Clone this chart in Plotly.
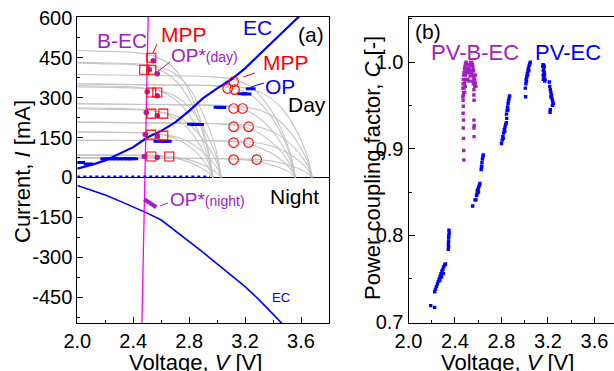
import plotly.graph_objects as go

W, H = 614, 371
FONT = "Liberation Sans, Arial, sans-serif"
PURPLE = "#a020c0"
MAGENTA = "#ff00ff"
BLUE = "#0000ff"
RED = "#ff0000"
GRAY = "#c4c4c4"

# ---------------- Panel (a): I-V data ----------------
# PV I-V curves (gray), family with lower Voc (PV-B-EC side)
VA1 = [2.0, 2.2, 2.4, 2.55, 2.65, 2.75, 2.85, 2.93, 2.97]
IA1 = [
    [477, 474, 470, 456, 429, 372, 262, 119, 0],
    [430, 427, 424, 411, 387, 335, 237, 108, 0],
    [345, 343, 340, 329, 311, 269, 190, 86, 0],
    [262, 260, 258, 250, 236, 204, 144, 66, 0],
    [172, 171, 169, 164, 155, 134, 95, 43, 0],
    [84, 83, 83, 80, 76, 66, 46, 21, 0],
]
VA2 = [2.0, 2.25, 2.45, 2.6, 2.7, 2.8, 2.9, 2.99, 3.03]
IA2 = [
    [433, 430, 426, 413, 389, 337, 238, 108, 0],
    [340, 338, 335, 325, 306, 265, 187, 85, 0],
    [258, 256, 254, 246, 232, 201, 142, 65, 0],
    [170, 169, 167, 162, 153, 133, 94, 43, 0],
    [85, 84, 84, 81, 77, 66, 47, 21, 0],
]
# family with higher Voc (PV-EC side)
VB1 = [2.0, 2.5, 2.95, 3.12, 3.22, 3.32, 3.43, 3.52, 3.56]
IB1 = [
    [387, 383, 379, 368, 347, 300, 212, 96, 0],
    [352, 348, 345, 334, 315, 273, 193, 88, 0],
    [277, 274, 271, 263, 248, 215, 151, 69, 0],
    [208, 205, 202, 196, 185, 160, 113, 51, 0],
    [140, 139, 138, 134, 126, 109, 77, 35, 0],
    [75, 73, 71, 69, 65, 56, 40, 18, 0],
]
VB2 = [2.0, 2.55, 3.05, 3.22, 3.33, 3.44, 3.55, 3.64, 3.68]
IB2 = [
    [352, 348, 345, 334, 315, 273, 193, 88, 0],
    [277, 274, 271, 263, 248, 215, 151, 69, 0],
    [208, 205, 202, 196, 185, 160, 113, 51, 0],
    [140, 139, 138, 134, 126, 109, 77, 35, 0],
    [72, 72, 71, 69, 65, 56, 40, 18, 0],
]

# EC load curve (day, charging) and (night, discharging)
EC_DAY_V = [2.0, 2.1, 2.2, 2.3, 2.4, 2.5, 2.6, 2.7, 2.8, 2.9, 3.0, 3.1, 3.2, 3.3, 3.4, 3.5, 3.6]
EC_DAY_I = [33, 47, 64, 88, 114, 150, 175, 207, 250, 298, 335, 368, 410, 461, 510, 560, 612]
EC_NIGHT_V = [2.0, 2.1, 2.2, 2.3, 2.4, 2.5, 2.6, 2.7, 2.8, 2.9, 3.0, 3.1, 3.2, 3.3, 3.4, 3.5]
EC_NIGHT_I = [-30, -47, -66, -88, -110, -134, -160, -200, -240, -282, -325, -366, -410, -460, -513, -568]

# B-EC line
BEC_V = [2.507, 2.462]
BEC_I = [603, -547]

# operating points (blue) of PV-EC
OP_V = [2.02, 2.08, 2.20, 2.23, 2.26, 2.29, 2.32, 2.35, 2.38, 2.40, 2.58, 2.61, 2.64,
        2.82, 2.85, 2.87, 3.01, 3.03, 3.18, 3.21, 3.24]
OP_I = [56, 51, 70, 70, 70, 70, 70, 70, 70, 70, 136, 136, 136,
        200, 199, 199, 264, 263, 315, 314, 333]
# night-time near-zero operating points
OPZ_V = [2.0, 2.95]
OPZ_I = [4, 4]

# OP* (day) of PV-B-EC
OPS_V = [2.543, 2.515, 2.572, 2.500, 2.572, 2.493, 2.572, 2.486, 2.572, 2.479, 2.572]
OPS_I = [439, 405, 390, 322, 307, 244, 232, 161, 154, 79, 75]
# OP* (night)
OPN_V = [2.479, 2.50, 2.52, 2.54, 2.565]
OPN_I = [-82, -90, -97, -104, -112]

# MPPs
MPP_SQ_V = [2.529, 2.479, 2.529, 2.529, 2.572, 2.529, 2.615, 2.529, 2.615, 2.529, 2.658]
MPP_SQ_I = [450, 405, 405, 319, 319, 240, 240, 161, 157, 79, 79]
MPP_CI_V = [3.118, 3.075, 3.125, 3.118, 3.182, 3.118, 3.225, 3.118, 3.225, 3.118, 3.283]
MPP_CI_I = [360, 334, 330, 259, 259, 191, 191, 131, 131, 67, 67]

# ---------------- Panel (b): coupling factor ----------------
PBEC_V = [2.468, 2.470, 2.472, 2.475, 2.478, 2.482, 2.486, 2.490, 2.495, 2.500, 2.505, 2.510,
          2.515, 2.520, 2.525, 2.530, 2.535, 2.540, 2.545, 2.550, 2.555, 2.560, 2.565, 2.570,
          2.575, 2.580, 2.480, 2.490, 2.500, 2.510, 2.520, 2.530, 2.540, 2.550, 2.560, 2.570,
          2.475, 2.485, 2.545, 2.505, 2.495, 2.535, 2.478, 2.488, 2.498, 2.548, 2.558, 2.568,
          2.472, 2.483, 2.562, 2.575,
          2.468, 2.470, 2.472, 2.470, 2.474, 2.471, 2.473, 2.475, 2.476,
          2.563, 2.562, 2.564, 2.563, 2.565, 2.563, 2.564]
PBEC_C = [0.970, 0.975, 0.980, 0.985, 0.988, 0.992, 0.995, 0.998, 1.000, 0.999, 0.997, 0.993,
          0.990, 0.988, 0.992, 0.996, 0.999, 1.000, 0.999, 0.997, 0.994, 0.990, 0.985, 0.980,
          0.976, 0.972, 0.975, 0.985, 0.988, 0.980, 0.978, 0.984, 0.988, 0.985, 0.978, 0.972,
          0.965, 0.978, 0.990, 0.990, 0.992, 0.990, 0.970, 0.972, 0.980, 0.978, 0.975, 0.975,
          0.962, 0.965, 0.982, 0.985,
          0.960, 0.956, 0.949, 0.941, 0.933, 0.924, 0.912, 0.898, 0.887,
          0.968, 0.962, 0.956, 0.933, 0.927, 0.924, 0.914]

PEC_V = [3.005, 3.010, 3.012, 3.018, 3.022, 3.028, 3.032, 3.038, 3.044, 3.048, 3.015, 3.025, 3.035, 3.008,
         3.155, 3.158, 3.162, 3.165, 3.160, 3.168, 3.170, 3.165, 3.160, 3.175, 3.172, 3.158, 3.168,
         3.212, 3.215, 3.220, 3.225, 3.230, 3.235, 3.240, 3.245, 3.225, 3.238, 3.220, 3.218,
         2.843, 2.848, 2.852, 2.856, 2.860, 2.865, 2.870, 2.855,
         2.800, 2.806, 2.812, 2.818, 2.824, 2.830, 2.836, 2.842, 2.815, 2.828, 2.845,
         2.625, 2.628, 2.632, 2.636, 2.640, 2.644, 2.630,
         2.585, 2.590, 2.595, 2.600, 2.605, 2.610, 2.615, 2.592, 2.602, 2.572, 2.580, 2.552,
         2.348, 2.350, 2.347, 2.345, 2.345, 2.343, 2.345, 2.342,
         2.225, 2.232, 2.240, 2.248, 2.256, 2.264, 2.272, 2.280, 2.288, 2.296, 2.304, 2.312, 2.318,
         2.270, 2.285, 2.300, 2.191, 2.225]
PEC_C = [0.970, 0.975, 0.980, 0.983, 0.987, 0.990, 0.993, 0.996, 0.998, 1.000, 0.978, 0.985, 0.990, 0.960,
         0.995, 0.997, 0.996, 0.993, 0.990, 0.988, 0.985, 0.982, 0.980, 0.980, 0.978, 0.985, 0.995,
         0.977, 0.972, 0.968, 0.965, 0.962, 0.958, 0.955, 0.952, 0.960, 0.950, 0.945, 0.942,
         0.940, 0.944, 0.948, 0.952, 0.955, 0.958, 0.961, 0.945,
         0.906, 0.910, 0.914, 0.918, 0.922, 0.925, 0.928, 0.930, 0.912, 0.920, 0.935,
         0.876, 0.880, 0.884, 0.888, 0.891, 0.893, 0.879,
         0.846, 0.848, 0.851, 0.854, 0.856, 0.858, 0.860, 0.852, 0.850, 0.841, 0.841, 0.834,
         0.806, 0.803, 0.800, 0.797, 0.793, 0.790, 0.787, 0.784,
         0.735, 0.738, 0.741, 0.744, 0.747, 0.750, 0.753, 0.756, 0.759, 0.761, 0.764, 0.766, 0.767,
         0.748, 0.752, 0.756, 0.719, 0.717]

# tick labels
A_YTICKS = [-450, -300, -150, 0, 150, 300, 450, 600]
A_YTEXT = ["-450", "-300", "-150", "0", "150", "300", "450", "600"]
XTICKS = [2.0, 2.4, 2.8, 3.2, 3.6]
XTEXT = ["2.0", "2.4", "2.8", "3.2", "3.6"]
B_YTICKS = [0.7, 0.8, 0.9, 1.0]
B_YTEXT = ["0.7", "0.8", "0.9", "1.0"]

fig = go.Figure()

def line(x, y, color, width, ax="", dash=None, shape="linear"):
    fig.add_trace(go.Scatter(x=x, y=y, mode="lines", xaxis="x" + ax, yaxis="y" + ax,
                             line=dict(color=color, width=width, dash=dash, shape=shape),
                             hoverinfo="skip", showlegend=False))

def pts(x, y, color, size, symbol, ax="", open_=False, lw=1):
    mk = dict(color=color, size=size, symbol=symbol)
    if open_:
        mk = dict(color="rgba(0,0,0,0)", size=size, symbol=symbol, line=dict(color=color, width=lw))
    else:
        mk["line"] = dict(width=0)
    fig.add_trace(go.Scatter(x=x, y=y, mode="markers", xaxis="x" + ax, yaxis="y" + ax,
                             marker=mk, hoverinfo="skip", showlegend=False))

for vg, fam in ((VA1, IA1), (VA2, IA2), (VB1, IB1), (VB2, IB2)):
    for cur in fam:
        line(vg, cur, GRAY, 1.1, shape="spline")

line(EC_DAY_V, EC_DAY_I, BLUE, 2.2)
line(EC_NIGHT_V, EC_NIGHT_I, BLUE, 1.6)
line(BEC_V, BEC_I, MAGENTA, 1.3)
line(OPZ_V, OPZ_I, BLUE, 2, dash="dot")
pts(OP_V, OP_I, BLUE, 7, "line-ew", open_=True, lw=3)
pts(OPS_V, OPS_I, PURPLE, 5.5, "circle")
line(OPN_V, OPN_I, PURPLE, 4)
pts(MPP_SQ_V, MPP_SQ_I, RED, 9, "square", open_=True, lw=1.1)
pts(MPP_CI_V, MPP_CI_I, RED, 9.5, "circle", open_=True, lw=1.1)

pts(PBEC_V, PBEC_C, PURPLE, 3.4, "square", ax="2")
pts(PEC_V, PEC_C, BLUE, 3.4, "square", ax="2")

def px(x):
    return x / W

def py(y):
    return 1 - y / H

tickfont = dict(family=FONT, size=20, color="black")
common = dict(showline=True, linecolor="black", linewidth=1, ticks="inside", ticklen=6,
              tickwidth=1, tickcolor="black", showgrid=False, tickfont=tickfont,
              automargin=False)

fig.update_layout(
    template="none",
    width=W, height=H, margin=dict(l=0, r=0, t=0, b=0, pad=0, autoexpand=False),
    paper_bgcolor="white", plot_bgcolor="white", showlegend=False,
    xaxis=dict(domain=[px(77.3), px(329)], range=[2.0, 3.8], tickmode="array",
               tickvals=XTICKS, ticktext=XTEXT, mirror=True, anchor="y", zeroline=False,
               minor=dict(tickmode="linear", tick0=2.0, dtick=0.2, ticks="inside", ticklen=3,
                          tickcolor="black"), **common),
    yaxis=dict(domain=[py(323), py(17)], range=[-547, 603], tickmode="array",
               tickvals=A_YTICKS, ticktext=A_YTEXT, mirror=True, anchor="x",
               minor=dict(tickmode="linear", tick0=0, dtick=75, ticks="inside", ticklen=3,
                          tickcolor="black"),
               zeroline=True, zerolinecolor="black", zerolinewidth=1, **common),
    xaxis2=dict(domain=[px(408.5), 1.0], range=[2.0, 3.768], tickmode="array",
                tickvals=XTICKS, ticktext=XTEXT, mirror=True, anchor="y2", zeroline=False,
                minor=dict(tickmode="linear", tick0=2.0, dtick=0.2, ticks="inside", ticklen=3,
                           tickcolor="black"), **common),
    yaxis2=dict(domain=[py(323), py(17)], range=[0.699, 1.052], tickmode="array",
                tickvals=B_YTICKS, ticktext=B_YTEXT, mirror=False, anchor="x2", zeroline=False,
                minor=dict(tickmode="linear", tick0=0.7, dtick=0.05, ticks="inside", ticklen=3,
                           tickcolor="black"), **common),
)

def txt(x, y, s, color="black", size=21, xanchor="center", angle=0):
    fig.add_annotation(x=px(x), y=py(y), xref="paper", yref="paper", text=s, showarrow=False,
                       xanchor=xanchor, yanchor="middle", textangle=angle,
                       font=dict(family=FONT, size=size, color=color))

def seg(x0, y0, x1, y1, color):
    fig.add_shape(type="line", xref="paper", yref="paper", x0=px(x0), y0=py(y0),
                  x1=px(x1), y1=py(y1), line=dict(color=color, width=1))

# axis titles
txt(196, 362, "Voltage, <i>V</i> [V]", size=22)
txt(507, 362, "Voltage, <i>V</i> [V]", size=22)
txt(22, 172, "Current, <i>I</i> [mA]", size=22, angle=-90)
txt(372, 168, "Power coupling factor, <i>C</i> [-]", size=22, angle=-90)

# panel (a) labels
txt(122, 40, "B-EC", PURPLE)
txt(184, 34, "MPP", RED)
seg(157, 44, 153, 53, RED)
txt(169, 55, "OP*<span style='font-size:14px'>(day)</span>", PURPLE, size=19, xanchor="left")
seg(170, 62, 157, 72, PURPLE)
txt(257, 28, "EC", BLUE)
txt(311, 34, "(a)")
txt(286, 62, "MPP", RED)
seg(255, 73, 243, 77, RED)
txt(280, 87, "OP", BLUE)
seg(264, 83, 251, 87, BLUE)
txt(307, 105, "Day")
txt(294, 196, "Night")
txt(168, 200, "OP*<span style='font-size:14px'>(night)</span>", PURPLE, size=19, xanchor="left")
seg(168, 203, 160, 206, PURPLE)
txt(281, 297, "EC", BLUE, size=13)

# panel (b) labels
txt(428, 32, "(b)")
txt(475, 52, "PV-B-EC", PURPLE, size=22)
txt(568, 52, "PV-EC", BLUE, size=22)

fig.write_html("out.html")
